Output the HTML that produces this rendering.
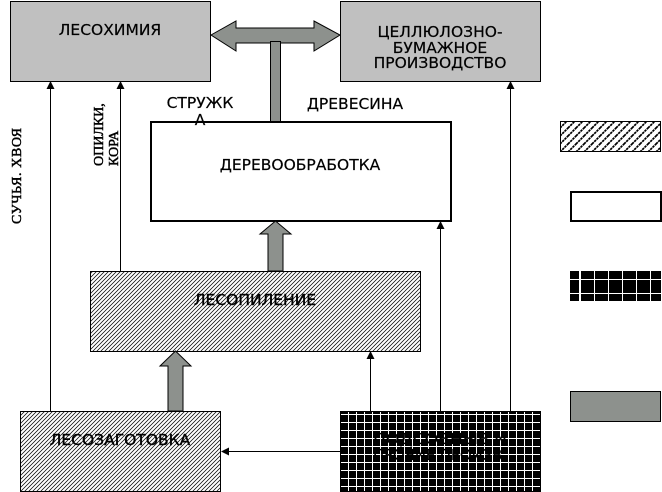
<!DOCTYPE html>
<html><head><meta charset="utf-8"><style>html,body{margin:0;padding:0;background:#fff}svg{display:block}</style></head><body>
<svg xmlns="http://www.w3.org/2000/svg" width="662" height="492" viewBox="0 0 662 492">
<defs>
<pattern id="h1" width="4" height="4" patternUnits="userSpaceOnUse"><rect width="4" height="4" fill="#fff"/><path d="M-1 1L1 -1M0 4L4 0M3 5L5 3" stroke="#000" stroke-width="0.75"/></pattern>
<pattern id="h2" width="8" height="8" patternUnits="userSpaceOnUse"><rect width="8" height="8" fill="#fff"/><path d="M-1 1L1 -1M0 8L8 0M7 9L9 7" stroke="#000" stroke-width="1.7" stroke-dasharray="2.5 0.7"/></pattern>
<pattern id="g" width="8" height="8" x="341" y="412" patternUnits="userSpaceOnUse"><rect width="8" height="8" fill="#000"/><rect x="7" width="1" height="8" fill="#fff"/><rect y="2" width="8" height="1" fill="#fff"/></pattern>
<pattern id="g2" width="14" height="14" x="573" y="273" patternUnits="userSpaceOnUse"><rect width="14" height="14" fill="#000"/><rect x="7" width="1" height="14" fill="#fff"/><rect y="6" width="14" height="1" fill="#fff"/></pattern>
</defs>
<g stroke="#000" stroke-width="1">
<rect x="10.5" y="1.5" width="200" height="80" fill="#c0c0c0"/>
<rect x="340.5" y="1.5" width="200" height="80" fill="#c0c0c0"/>
<path d="M211 35L236 21V28H314V21L340 35L314 51V43H236V51Z" fill="#8d918d"/>
<rect x="270.5" y="41.5" width="10" height="80" fill="#8d918d"/>
<rect x="151" y="122" width="300" height="99" fill="#fff" stroke-width="2"/>
<path d="M275.5 221L291 234H283V271H268V234H260Z" fill="#8d918d"/>
<rect x="90.5" y="271.5" width="330" height="80" fill="url(#h1)"/>
<path d="M175.5 351L191 366H183V411H168V366H160Z" fill="#8d918d"/>
<rect x="20.5" y="411.5" width="200" height="80" fill="url(#h1)"/>
<rect x="340.5" y="411.5" width="200" height="80" fill="url(#g)"/>
<rect x="560.5" y="121.5" width="100" height="30" fill="url(#h2)"/>
<rect x="571" y="192" width="90" height="29" fill="#fff" stroke-width="2"/>
<rect x="570" y="271" width="91" height="30" fill="url(#g2)" stroke="none"/>
<rect x="579" y="271" width="2" height="30" fill="#fff" stroke="none"/>
<rect x="570.5" y="391.5" width="90" height="30" fill="#8d918d"/>
<path d="M50.5 411V88M120.5 271V88M370.5 411V358M440.5 411V228M510.5 411V88M340 451.5H227" fill="none"/>
</g>
<g fill="#000">
<path d="M50.5 81L46.5 89H54.5Z"/><path d="M120.5 81L116.5 89H124.5Z"/><path d="M370.5 351L366.5 359H374.5Z"/><path d="M440.5 221L436.5 229H444.5Z"/><path d="M510.5 81L506.5 89H514.5Z"/><path d="M221 451.5L229 447.5V455.5Z"/>
</g>
<g font-family="'DejaVu Sans',sans-serif" font-size="15.5" text-anchor="middle" fill="#000" stroke="#000" stroke-width="0.2">
<text x="110" y="35">ЛЕСОХИМИЯ</text>
<text x="440" y="37">ЦЕЛЛЮЛОЗНО-</text>
<text x="440" y="53">БУМАЖНОЕ</text>
<text x="440" y="68">ПРОИЗВОДСТВО</text>
<text x="200" y="108">СТРУЖК</text>
<text x="200" y="125">А</text>
<text x="355" y="109">ДРЕВЕСИНА</text>
<text x="300" y="170">ДЕРЕВООБРАБОТКА</text>
<text x="255" y="305" stroke-width="0.4">ЛЕСОПИЛЕНИЕ</text>
<text x="120" y="445" stroke-width="0.4">ЛЕСОЗАГОТОВКА</text>
<text x="440" y="444" textLength="134" lengthAdjust="spacingAndGlyphs">ПОДСОБНЫЕ И</text>
<text x="440" y="460" textLength="134" lengthAdjust="spacingAndGlyphs">ПРОЧИЕ ПРОИЗВ.</text>
</g>
<g font-family="'Liberation Serif',serif" font-size="14" fill="#000" stroke="#000" stroke-width="0.5">
<text transform="translate(21,224) rotate(-90)" textLength="96">СУЧЬЯ. ХВОЯ</text>
<text transform="translate(103,166) rotate(-90)">ОПИЛКИ,</text>
<text transform="translate(118,166) rotate(-90)">КОРА</text>
</g>
</svg>
</body></html>
